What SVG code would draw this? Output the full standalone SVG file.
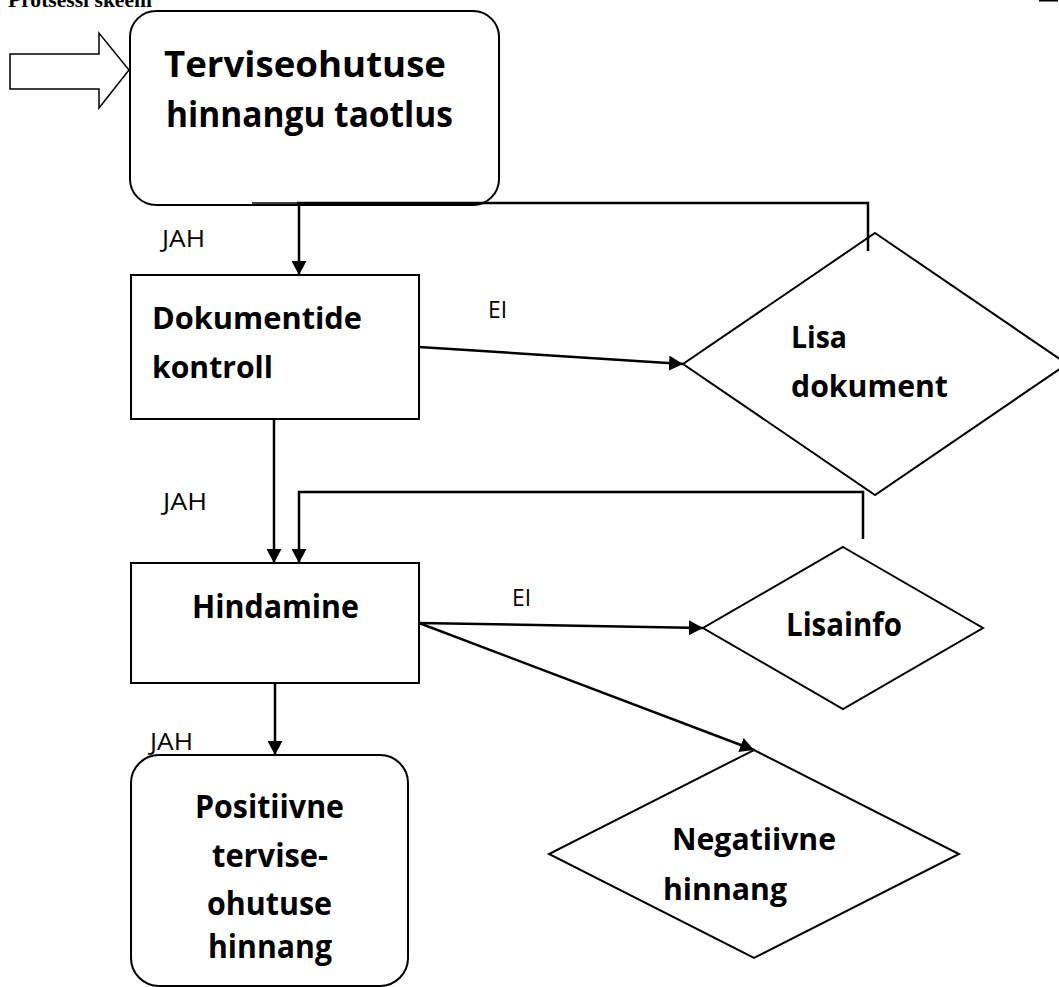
<svg xmlns="http://www.w3.org/2000/svg" width="1059" height="987" viewBox="0 0 1059 987">
<defs>
<style>
.box{fill:#fff;stroke:#000;stroke-width:2}
.dia{fill:#fff;stroke:#000;stroke-width:2}
.con{fill:none;stroke:#000;stroke-width:2.5}
.b{font-family:"Open Sans","Noto Sans","Liberation Sans",sans-serif;font-weight:bold;fill:#000}
.r{font-family:"Open Sans","Noto Sans","Liberation Sans",sans-serif;font-weight:normal;fill:#000;font-size:23px}
</style>
<marker id="ah" viewBox="0 0 14 15" refX="14" refY="7.5" markerWidth="14" markerHeight="15" markerUnits="userSpaceOnUse" orient="auto">
<path d="M0,0 L14,7.5 L0,15 Z" fill="#000"/>
</marker>
</defs>
<rect width="1059" height="987" fill="#fff"/>
<text x="8" y="7" font-family="Liberation Serif,serif" font-weight="bold" font-size="21.6" textLength="144" lengthAdjust="spacingAndGlyphs">Protsessi skeem</text>
<rect x="1039" y="0" width="19" height="1.5" fill="#000"/>

<g id="start-arrow">
<polygon points="10,54 99,54 99,33 129,70 99,108 99,89 10,89" fill="#fff" stroke="#000" stroke-width="1.5"/>
</g>

<g id="taotlus">
<rect class="box" x="130" y="11" width="369" height="194" rx="26"/>
<text class="b" x="164" y="77" font-size="35" textLength="282" lengthAdjust="spacingAndGlyphs">Terviseohutuse</text>
<text class="b" x="166" y="127" font-size="35" textLength="287" lengthAdjust="spacingAndGlyphs">hinnangu taotlus</text>
</g>

<g id="dokumentide-kontroll">
<rect class="box" x="131" y="275" width="288" height="144"/>
<text class="b" x="152" y="329" font-size="31" textLength="210" lengthAdjust="spacingAndGlyphs">Dokumentide</text>
<text class="b" x="152" y="378" font-size="31" textLength="121" lengthAdjust="spacingAndGlyphs">kontroll</text>
</g>

<g id="lisa-dokument">
<polygon class="dia" points="875,233 1067,364 875,495 683,364"/>
<text class="b" x="791" y="348" font-size="30" textLength="56" lengthAdjust="spacingAndGlyphs">Lisa</text>
<text class="b" x="791" y="397" font-size="30" textLength="157" lengthAdjust="spacingAndGlyphs">dokument</text>
</g>

<g id="hindamine">
<rect class="box" x="131" y="563" width="288" height="120"/>
<text class="b" x="192" y="618" font-size="32" textLength="167" lengthAdjust="spacingAndGlyphs">Hindamine</text>
</g>

<g id="lisainfo">
<polygon class="dia" points="843,547 983,628 843,709 703,628"/>
<text class="b" x="786" y="636" font-size="32" textLength="116" lengthAdjust="spacingAndGlyphs">Lisainfo</text>
</g>

<g id="positiivne">
<rect class="box" x="131" y="755" width="277" height="231" rx="28"/>
<text class="b" x="195" y="818" font-size="32" textLength="149" lengthAdjust="spacingAndGlyphs">Positiivne</text>
<text class="b" x="212" y="867" font-size="32" textLength="116" lengthAdjust="spacingAndGlyphs">tervise-</text>
<text class="b" x="207" y="915" font-size="32" textLength="125" lengthAdjust="spacingAndGlyphs">ohutuse</text>
<text class="b" x="208" y="958" font-size="32" textLength="124" lengthAdjust="spacingAndGlyphs">hinnang</text>
</g>

<g id="negatiivne">
<polygon class="dia" points="754,750 959,854 754,958 549,854"/>
<text class="b" x="672" y="850" font-size="31" textLength="164" lengthAdjust="spacingAndGlyphs">Negatiivne</text>
<text class="b" x="663" y="900" font-size="31" textLength="124" lengthAdjust="spacingAndGlyphs">hinnang</text>
</g>

<g id="connectors">
<path class="con" d="M868,251 V203 H297"/>
<path d="M252,203 H297" fill="none" stroke="#000" stroke-width="1.5"/>
<path class="con" d="M299,203 V275" marker-end="url(#ah)"/>
<path class="con" d="M419,347 L683,364" marker-end="url(#ah)"/>
<path class="con" d="M274,419 V563" marker-end="url(#ah)"/>
<path class="con" d="M863,539 V492 H299 V563" marker-end="url(#ah)"/>
<path class="con" d="M419,623 L703,628" marker-end="url(#ah)"/>
<path class="con" d="M419,623 L754,750" marker-end="url(#ah)"/>
<path class="con" d="M275,683 V755" marker-end="url(#ah)"/>
<text class="r" x="162" y="247" textLength="43" lengthAdjust="spacingAndGlyphs">JAH</text>
<text class="r" x="163" y="510" textLength="44" lengthAdjust="spacingAndGlyphs">JAH</text>
<text class="r" x="150" y="750" textLength="43" lengthAdjust="spacingAndGlyphs">JAH</text>
<text class="r" x="488" y="318" textLength="19" lengthAdjust="spacingAndGlyphs">EI</text>
<text class="r" x="512" y="606" textLength="19" lengthAdjust="spacingAndGlyphs">EI</text>
</g>
</svg>
